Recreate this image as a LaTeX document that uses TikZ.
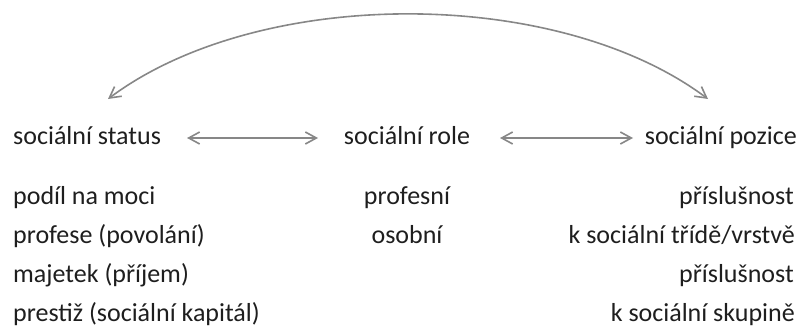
\documentclass[tikz,border=0pt]{standalone}
\usepackage{fontspec}
\setmainfont{Carlito}
\usetikzlibrary{arrows.meta}
\definecolor{arrgray}{RGB}{135,135,135}
\definecolor{txtgray}{RGB}{30,30,30}
\tikzset{
  lbl/.style={inner sep=0pt, text=txtgray, font=\fontsize{26}{31}\selectfont},
  arr/.style={draw=arrgray, line width=1.6pt, {Straight Barb[length=11pt,width=12pt]}-{Straight Barb[length=11pt,width=12pt]}},
  curvarr/.style={draw=arrgray, line width=1.6pt, {Straight Barb[length=11pt,width=12pt]}-{Straight Barb[length=11pt,width=12pt]}}
}
\begin{document}
\begin{tikzpicture}[x=1pt,y=-1pt]
\useasboundingbox (0,0) rectangle (805,329);
% headers
\node[lbl, anchor=base west] (status) at (13,144) {sociální status};
\node[lbl, anchor=base] (role) at (407,144) {sociální role};
\node[lbl, anchor=base east] (pozice) at (797,144) {sociální pozice};
% left column
\node[lbl, anchor=base west] (l1) at (13,204) {podíl na moci};
\node[lbl, anchor=base west] (l2) at (13,243) {profese (povolání)};
\node[lbl, anchor=base west] (l3) at (13,282) {majetek (příjem)};
\node[lbl, anchor=base west] (l4) at (13,321) {prestiž (sociální kapitál)};
% middle column
\node[lbl, anchor=base] (m1) at (407,204) {profesní};
\node[lbl, anchor=base] (m2) at (407,243) {osobní};
% right column
\node[lbl, anchor=base east] (r1) at (794,204) {příslušnost};
\node[lbl, anchor=base east] (r2) at (795,243) {k sociální třídě/vrstvě};
\node[lbl, anchor=base east] (r3) at (794,282) {příslušnost};
\node[lbl, anchor=base east] (r4) at (795,321) {k sociální skupině};
% connector ends
\coordinate (a1) at (187,138);
\coordinate (a2) at (318,138);
\coordinate (b1) at (500,138);
\coordinate (b2) at (633,138);
\coordinate (c1) at (108,99);
\coordinate (c2) at (708,99);
\draw[arr] (a1) -- (a2);
\draw[arr] (b1) -- (b2);
\draw[curvarr] (c1) .. controls (259,-14) and (557,-14) .. (c2);
\end{tikzpicture}
\end{document}
